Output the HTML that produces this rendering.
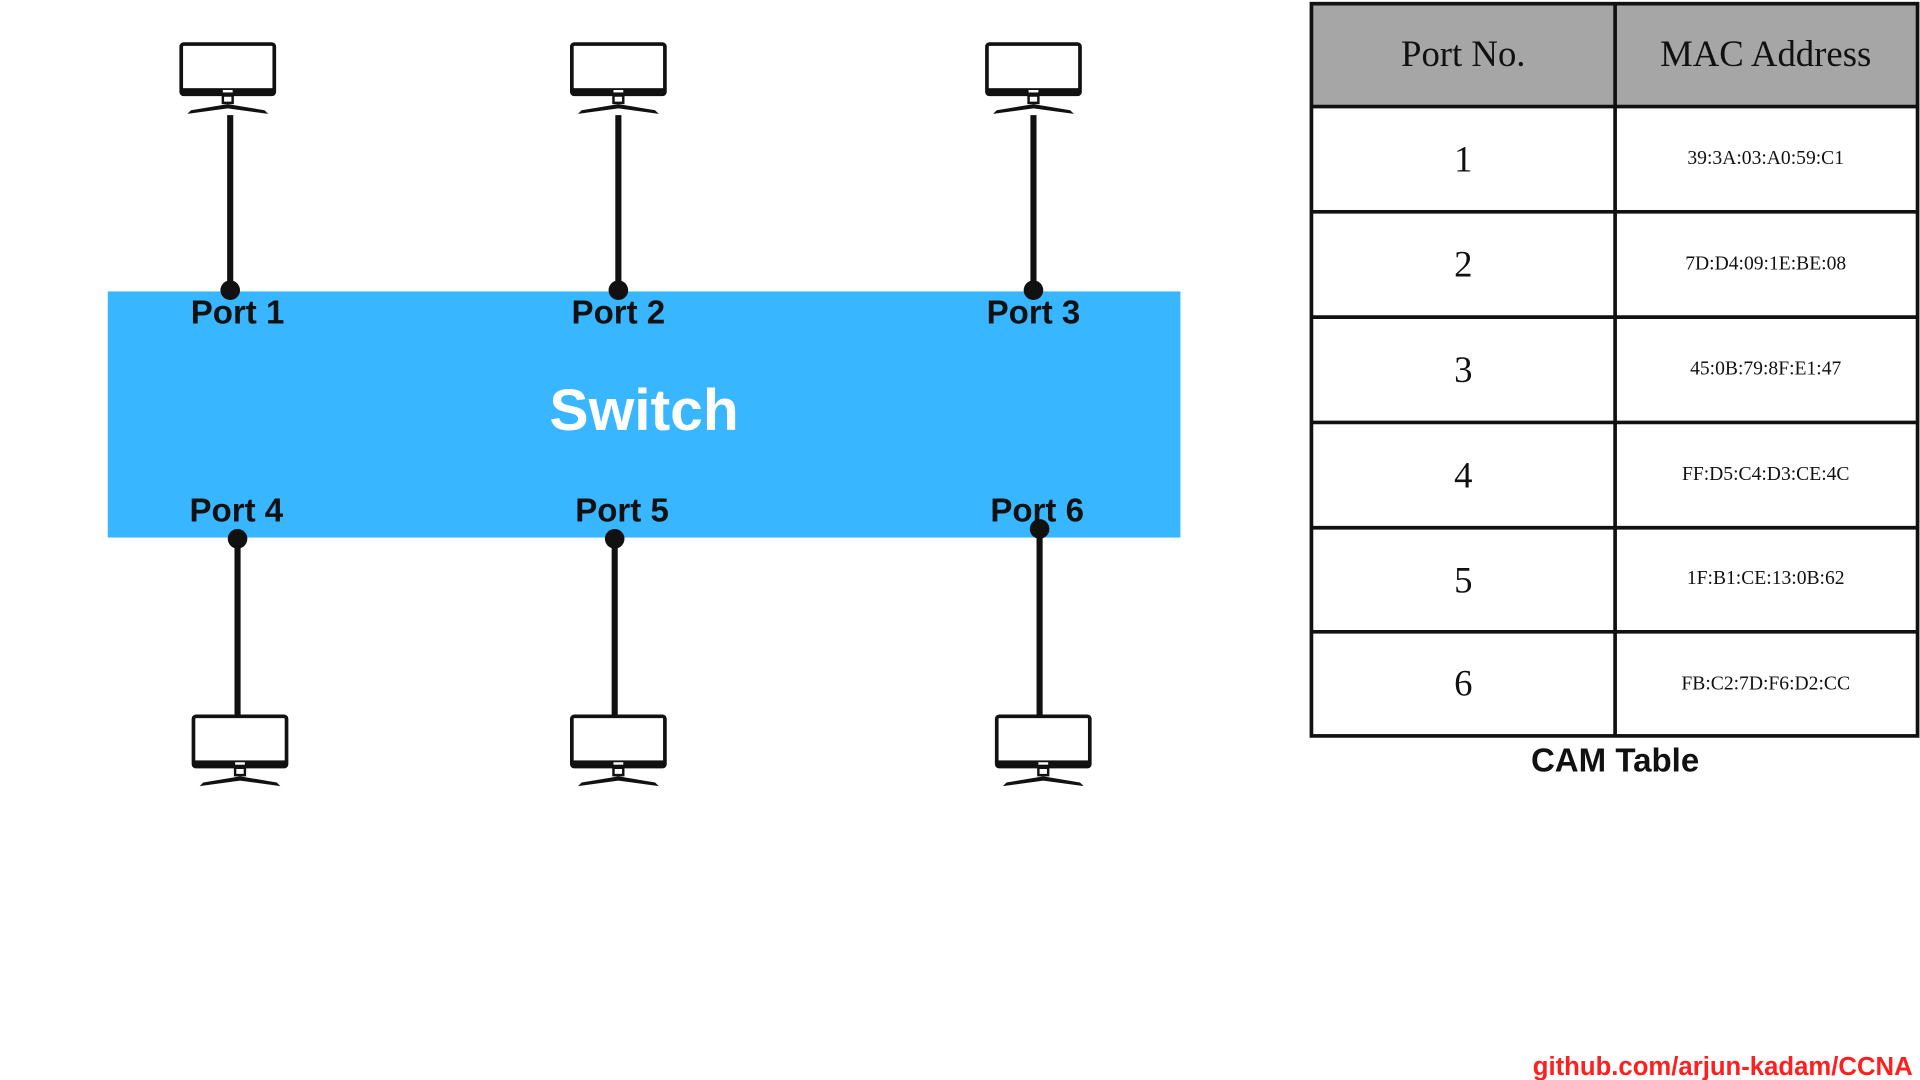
<!DOCTYPE html>
<html><head><style>html,body{margin:0;padding:0;background:#fff;}svg{display:block}</style></head>
<body>
<svg width="1920" height="1080" viewBox="0 0 1568 882" xmlns="http://www.w3.org/2000/svg">
<defs>
<g id="mon">
  <rect x="-38" y="0" width="76" height="41" rx="2" fill="#fff" stroke="#111" stroke-width="3"/>
  <rect x="-38" y="36" width="76" height="6" fill="#111"/>
  <rect x="-4" y="37.5" width="8" height="2" fill="#fff"/>
  <path d="M-4 42 L-4 48 L4 48 L4 42 Z" fill="none" stroke="#111" stroke-width="2"/>
  <path d="M-33 57 L-30 54 L0 49 L30 54 L33 57 L0 52.5 Z" fill="#111"/>
</g>
</defs>
<rect x="88" y="238" width="876" height="201" fill="#38b6ff"/>
<g stroke="#111" stroke-width="5">
  <line x1="188" y1="94" x2="188" y2="237"/>
  <line x1="505" y1="94" x2="505" y2="237"/>
  <line x1="844" y1="94" x2="844" y2="237"/>
  <line x1="194" y1="440" x2="194" y2="585"/>
  <line x1="502" y1="440" x2="502" y2="585"/>
  <line x1="849" y1="432" x2="849" y2="585"/>
</g>
<g fill="#111">
  <circle cx="188" cy="237" r="8"/><circle cx="505" cy="237" r="8"/><circle cx="844" cy="237" r="8"/>
  <circle cx="194" cy="440" r="8"/><circle cx="502" cy="440" r="8"/><circle cx="849" cy="432" r="8"/>
</g>
<use href="#mon" x="186" y="36"/><use href="#mon" x="505" y="36"/><use href="#mon" x="844" y="36"/>
<use href="#mon" x="196" y="585"/><use href="#mon" x="505" y="585"/><use href="#mon" x="852" y="585"/>
<g font-family="Liberation Sans, sans-serif" font-weight="bold" font-size="27" fill="#111" text-anchor="middle">
  <text x="194" y="264">Port 1</text><text x="505" y="264">Port 2</text><text x="844" y="264">Port 3</text>
  <text x="193" y="426">Port 4</text><text x="508" y="426">Port 5</text><text x="847" y="426">Port 6</text>
</g>
<text x="526" y="351" font-family="Liberation Sans, sans-serif" font-weight="bold" font-size="48" fill="#fff" text-anchor="middle">Switch</text>
<rect x="1071" y="3" width="495" height="84" fill="#a6a6a6"/>
<g stroke="#111" stroke-width="3" fill="none">
  <rect x="1071" y="3" width="495" height="598"/>
  <line x1="1319" y1="3" x2="1319" y2="601"/>
  <line x1="1071" y1="87" x2="1566" y2="87"/>
  <line x1="1071" y1="173" x2="1566" y2="173"/>
  <line x1="1071" y1="259" x2="1566" y2="259"/>
  <line x1="1071" y1="345" x2="1566" y2="345"/>
  <line x1="1071" y1="431" x2="1566" y2="431"/>
  <line x1="1071" y1="516" x2="1566" y2="516"/>
</g>
<g font-family="Liberation Serif, serif" fill="#111" text-anchor="middle">
  <text x="1195" y="54" font-size="30">Port No.</text>
  <text x="1442" y="54" font-size="30">MAC Address</text>
  <g font-size="30">
    <text x="1195" y="140">1</text><text x="1195" y="226">2</text><text x="1195" y="312">3</text>
    <text x="1195" y="398">4</text><text x="1195" y="484">5</text><text x="1195" y="568">6</text>
  </g>
  <g font-size="16">
    <text x="1442" y="134">39:3A:03:A0:59:C1</text>
    <text x="1442" y="220">7D:D4:09:1E:BE:08</text>
    <text x="1442" y="306">45:0B:79:8F:E1:47</text>
    <text x="1442" y="392">FF:D5:C4:D3:CE:4C</text>
    <text x="1442" y="477">1F:B1:CE:13:0B:62</text>
    <text x="1442" y="563">FB:C2:7D:F6:D2:CC</text>
  </g>
</g>
<text x="1319" y="630" font-family="Liberation Sans, sans-serif" font-weight="bold" font-size="27" fill="#111" text-anchor="middle">CAM Table</text>
<text x="1562" y="878" font-family="Liberation Sans, sans-serif" font-weight="bold" font-size="21" fill="#ff1f1f" text-anchor="end">github.com/arjun-kadam/CCNA</text>
</svg>
</body></html>
